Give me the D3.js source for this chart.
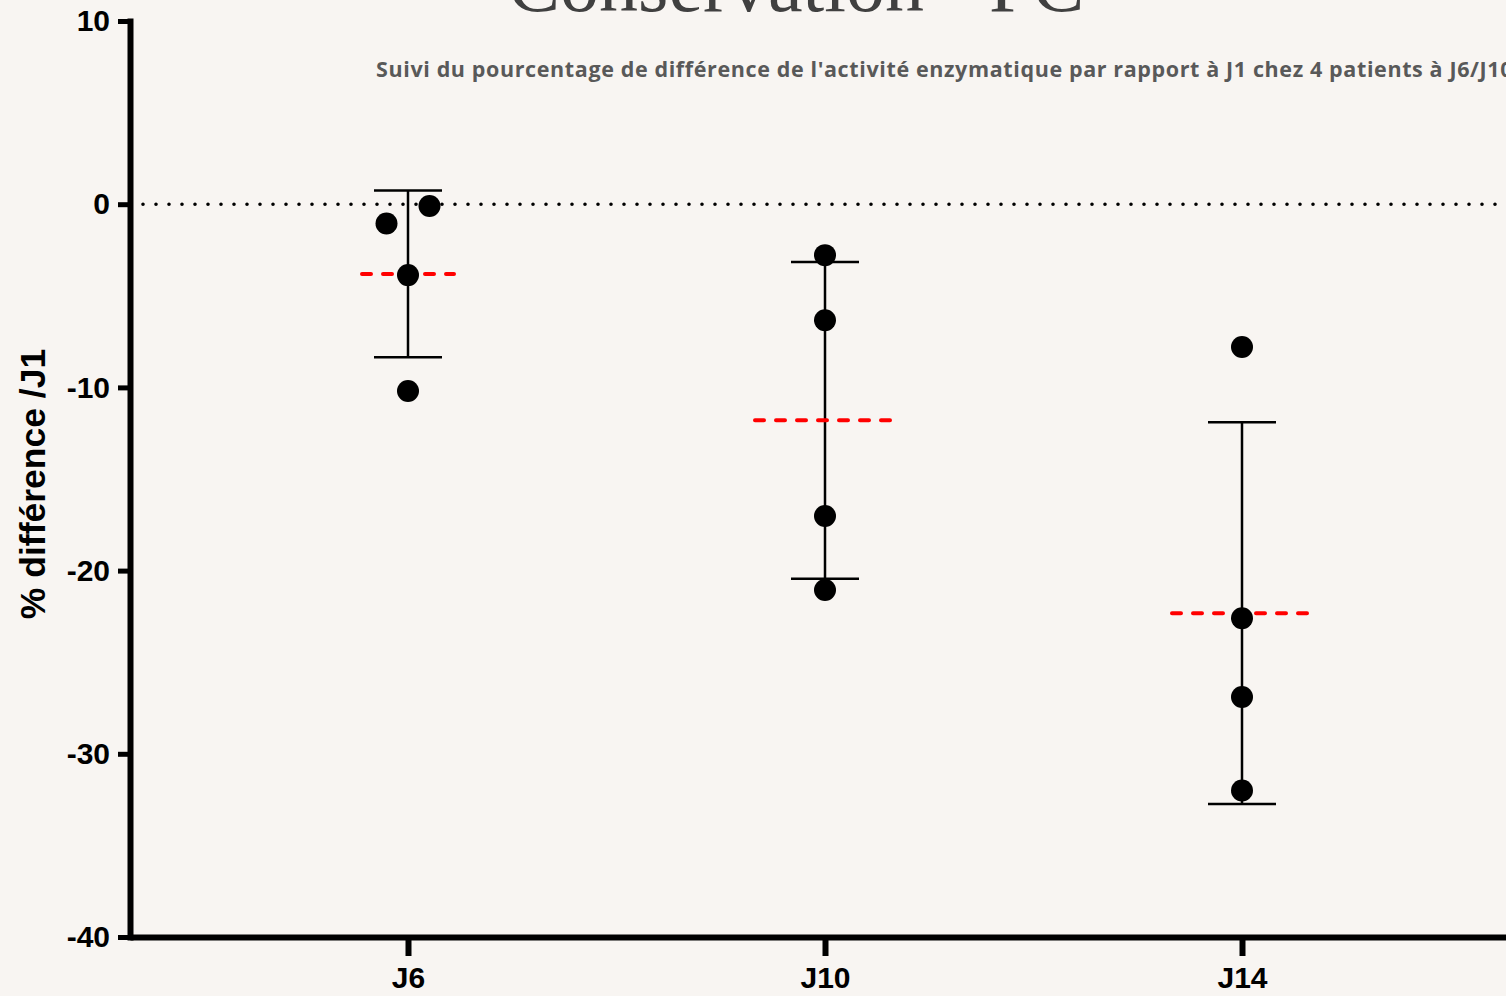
<!DOCTYPE html>
<html>
<head>
<meta charset="utf-8">
<script src="https://cdn.jsdelivr.net/npm/d3@7"></script>
<style>
  html, body { margin: 0; padding: 0; background: #f8f5f2; overflow: hidden; }
  svg { display: block; }
</style>
</head>
<body>
<svg id="chart" width="1506" height="996"></svg>
<script>
// Days of follow-up
const days = ["J6", "J10", "J14"];
// % difference of enzymatic activity vs J1, one value per patient
const valuesJ6  = [-1.05, -0.1, -3.87, -10.2];
const valuesJ10 = [-2.78, -6.33, -17.02, -21.06];
const valuesJ14 = [-7.8, -22.6, -26.9, -32.0];
const yTicks = [10, 0, -10, -20, -30, -40];

const title = "Conservation - PC";
const subtitle = "Suivi du pourcentage de différence de l'activité enzymatique par rapport à J1 chez 4 patients à J6/J10/J14";
const yLabel = "% différence /J1";

const series = [valuesJ6, valuesJ10, valuesJ14];
const meanHalfWidth = [46, 70, 70];

const svg = d3.select("#chart");

const x = d3.scalePoint().domain(days).range([130, 1520]).padding(2 / 3);
const y = d3.scaleLinear().domain([-40, 10]).range([937, 21]);

// Title and subtitle
svg.append("text")
  .attr("x", 508).attr("y", 11)
  .attr("font-family", "'Liberation Serif', 'Times New Roman', serif")
  .attr("font-size", 78)
  .attr("fill", "#404040")
  .text(title);

svg.append("text")
  .attr("x", 376).attr("y", 77)
  .attr("font-family", "'Open Sans', Lato, sans-serif")
  .attr("font-weight", "bold")
  .attr("font-size", 21.5)
  .attr("letter-spacing", 0.62)
  .attr("fill", "#595959")
  .text(subtitle);

// Zero reference line
svg.append("line")
  .attr("x1", 143).attr("x2", 1520)
  .attr("y1", y(0)).attr("y2", y(0))
  .attr("stroke", "#000")
  .attr("stroke-width", 3.6)
  .attr("stroke-linecap", "round")
  .attr("stroke-dasharray", "0 13");

// Per-day statistics: mean and sample standard deviation
const stats = series.map((vals, i) => ({
  day: days[i],
  mean: d3.mean(vals),
  sd: d3.deviation(vals),
  half: meanHalfWidth[i]
}));

// Error bars (mean ± SD)
const capHalf = 34;
const eb = svg.append("g").attr("stroke", "#000").attr("stroke-width", 2.5).attr("fill", "none");
stats.forEach(s => {
  const cx = x(s.day);
  eb.append("line").attr("x1", cx).attr("x2", cx)
    .attr("y1", y(s.mean + s.sd)).attr("y2", y(s.mean - s.sd));
  [s.mean + s.sd, s.mean - s.sd].forEach(v => {
    eb.append("line").attr("x1", cx - capHalf).attr("x2", cx + capHalf)
      .attr("y1", y(v)).attr("y2", y(v));
  });
});

// Mean lines
svg.append("g").selectAll("line").data(stats).join("line")
  .attr("x1", d => x(d.day) - d.half)
  .attr("x2", d => x(d.day) + d.half)
  .attr("y1", d => y(d.mean)).attr("y2", d => y(d.mean))
  .attr("stroke", "#ff0000")
  .attr("stroke-width", 4)
  .attr("stroke-linecap", "round")
  .attr("stroke-dasharray", "9 12");

// Points: overlapping markers within a column are spread side by side
const r = 11;
const spread = 43;
const points = [];
series.forEach((vals, i) => {
  const sorted = vals.map(v => ({ v, day: days[i] })).sort((a, b) => a.v - b.v);
  let cluster = [];
  const flush = () => {
    cluster.forEach((p, k) => { p.dx = (k - (cluster.length - 1) / 2) * spread; points.push(p); });
    cluster = [];
  };
  sorted.forEach(p => {
    if (cluster.length && Math.abs(y(p.v) - y(cluster[cluster.length - 1].v)) >= 2 * r) flush();
    cluster.push(p);
  });
  flush();
});

svg.append("g").selectAll("circle").data(points).join("circle")
  .attr("cx", d => x(d.day) + d.dx)
  .attr("cy", d => y(d.v))
  .attr("r", r)
  .attr("fill", "#000");

// Axes
const yAxis = svg.append("g")
  .attr("transform", "translate(130,0)")
  .call(d3.axisLeft(y).tickValues(yTicks).tickFormat(d => String(d))
    .tickSize(12).tickSizeOuter(0).tickPadding(8));
yAxis.select(".domain").attr("stroke-width", 6).attr("stroke-linecap", "square");
yAxis.selectAll(".tick line").attr("stroke-width", 5);
yAxis.selectAll(".tick text")
  .attr("font-family", "'Liberation Sans', Arial, sans-serif")
  .attr("font-weight", "bold")
  .attr("font-size", 30)
  .attr("fill", "#000");

const xAxis = svg.append("g")
  .attr("transform", `translate(0,${y(-40)})`)
  .call(d3.axisBottom(x).tickSize(19).tickSizeOuter(0).tickPadding(11));
xAxis.select(".domain").attr("stroke-width", 6);
xAxis.selectAll(".tick line").attr("stroke-width", 6);
xAxis.selectAll(".tick text")
  .attr("font-family", "'Liberation Sans', Arial, sans-serif")
  .attr("font-weight", "bold")
  .attr("font-size", 30)
  .attr("fill", "#000");

// Y axis title
svg.append("text")
  .attr("transform", "translate(45,484) rotate(-90)")
  .attr("text-anchor", "middle")
  .attr("font-family", "'Liberation Sans', Arial, sans-serif")
  .attr("font-weight", "bold")
  .attr("font-size", 35.5)
  .attr("fill", "#000")
  .text(yLabel);
</script>
</body>
</html>
